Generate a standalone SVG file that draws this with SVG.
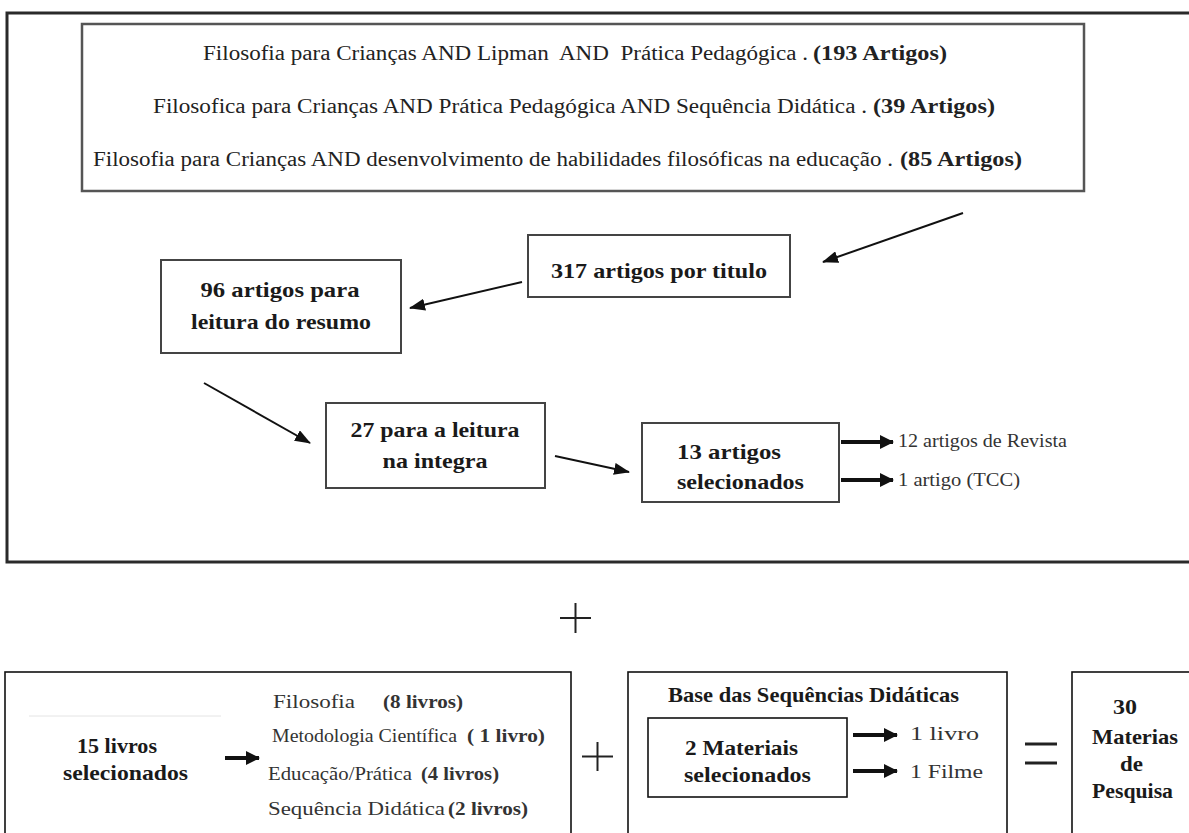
<svg xmlns="http://www.w3.org/2000/svg" width="1189" height="833" viewBox="0 0 1189 833">
<style>
.t{font-family:"Liberation Serif","Times New Roman",serif;fill:#222;white-space:pre}
.r{font-size:20px}
.b{font-weight:bold}
.m{font-size:22px;font-weight:bold;fill:#1a1a1a}
.s{font-size:19px;fill:#333}
.box{fill:none;stroke:#444;stroke-width:2}
.bbox{fill:none;stroke:#111;stroke-width:1.6}
.arr{stroke:#111;stroke-width:2;fill:none;marker-end:url(#ah)}
.tarr{stroke:#111;stroke-width:4;fill:none;marker-end:url(#th)}
.sym{stroke:#222;stroke-width:2;fill:none}
</style>
<defs>
<marker id="ah" markerUnits="userSpaceOnUse" markerWidth="16" markerHeight="12" refX="15" refY="6" orient="auto">
<path d="M0,0 L16,6 L0,12 z" fill="#111"/>
</marker>
<marker id="th" markerUnits="userSpaceOnUse" markerWidth="14" markerHeight="14" refX="13" refY="7" orient="auto">
<path d="M0,0 L14,7 L0,14 z" fill="#111"/>
</marker>
</defs>
<rect width="1189" height="833" fill="#fff"/>

<rect x="7" y="13" width="1200" height="549" fill="none" stroke="#2a2a2a" stroke-width="3"/>

<g id="search-box">
<rect x="82" y="24" width="1002" height="167" fill="none" stroke="#555" stroke-width="2.5"/>
<text class="t r" x="203" y="60" textLength="605" lengthAdjust="spacingAndGlyphs">Filosofia para Crianças AND Lipman  AND  Prática Pedagógica .</text>
<text class="t r b" x="813" y="60" textLength="134" lengthAdjust="spacingAndGlyphs">(193 Artigos)</text>
<text class="t r" x="153" y="113" textLength="714" lengthAdjust="spacingAndGlyphs">Filosofica para Crianças AND Prática Pedagógica AND Sequência Didática .</text>
<text class="t r b" x="873" y="113" textLength="122" lengthAdjust="spacingAndGlyphs">(39 Artigos)</text>
<text class="t r" x="93" y="166" textLength="800" lengthAdjust="spacingAndGlyphs">Filosofia para Crianças AND desenvolvimento de habilidades filosóficas na educação .</text>
<text class="t r b" x="900" y="166" textLength="122" lengthAdjust="spacingAndGlyphs">(85 Artigos)</text>
</g>

<g id="n317">
<rect class="box" x="528" y="235" width="262" height="62"/>
<text class="t m" x="659" y="278" text-anchor="middle" textLength="216" lengthAdjust="spacingAndGlyphs">317 artigos por titulo</text>
</g>
<g id="n96">
<rect class="box" x="161" y="260" width="240" height="93"/>
<text class="t m" x="280" y="297" text-anchor="middle" textLength="159" lengthAdjust="spacingAndGlyphs">96 artigos para</text>
<text class="t m" x="281" y="329" text-anchor="middle" textLength="180" lengthAdjust="spacingAndGlyphs">leitura do resumo</text>
</g>
<g id="n27">
<rect class="box" x="326" y="403" width="219" height="85"/>
<text class="t m" x="435" y="437" text-anchor="middle" textLength="169" lengthAdjust="spacingAndGlyphs">27 para a leitura</text>
<text class="t m" x="435" y="468" text-anchor="middle" textLength="105" lengthAdjust="spacingAndGlyphs">na integra</text>
</g>
<g id="n13">
<rect class="box" x="642" y="423" width="197" height="79"/>
<text class="t m" x="677" y="459" textLength="104" lengthAdjust="spacingAndGlyphs">13 artigos</text>
<text class="t m" x="677" y="489" textLength="127" lengthAdjust="spacingAndGlyphs">selecionados</text>
</g>
<g id="out13">
<text class="t s" x="898" y="447" textLength="169" lengthAdjust="spacingAndGlyphs">12 artigos de Revista</text>
<text class="t s" x="898" y="486" textLength="122" lengthAdjust="spacingAndGlyphs">1 artigo (TCC)</text>
</g>

<g id="connectors">
<line class="arr" x1="963" y1="213" x2="823" y2="262"/>
<line class="arr" x1="522" y1="282" x2="410" y2="308"/>
<line class="arr" x1="204" y1="383" x2="310" y2="443"/>
<line class="arr" x1="555" y1="456" x2="629" y2="472"/>
<line class="tarr" x1="841" y1="442" x2="893" y2="442"/>
<line class="tarr" x1="841" y1="480" x2="893" y2="480"/>
<line class="tarr" x1="225" y1="758" x2="259" y2="758"/>
<line class="tarr" x1="853" y1="735" x2="897" y2="735"/>
<line class="tarr" x1="853" y1="771" x2="897" y2="771"/>
</g>

<g id="plus-top">
<line class="sym" x1="575.5" y1="603" x2="575.5" y2="633"/>
<line class="sym" x1="560" y1="618" x2="591" y2="618"/>
</g>

<g id="books">
<rect class="bbox" x="5" y="672" width="566" height="200"/>
<line x1="29" y1="716" x2="221" y2="716" stroke="#e4e4e4" stroke-width="1"/>
<text class="t m" x="77" y="753" font-size="20" textLength="80" lengthAdjust="spacingAndGlyphs">15 livros</text>
<text class="t m" x="63" y="780" font-size="20" textLength="125" lengthAdjust="spacingAndGlyphs">selecionados</text>
<text class="t s" x="273" y="708" font-size="20" textLength="82" lengthAdjust="spacingAndGlyphs">Filosofia</text>
<text class="t s b" x="383" y="708" font-size="18" textLength="80" lengthAdjust="spacingAndGlyphs">(8 livros)</text>
<text class="t s" x="272" y="742" textLength="185" lengthAdjust="spacingAndGlyphs">Metodologia Científica</text>
<text class="t s b" x="467" y="742" textLength="78" lengthAdjust="spacingAndGlyphs">( 1 livro)</text>
<text class="t s" x="268" y="780" textLength="144" lengthAdjust="spacingAndGlyphs">Educação/Prática</text>
<text class="t s b" x="421" y="780" textLength="78" lengthAdjust="spacingAndGlyphs">(4 livros)</text>
<text class="t s" x="268" y="815" font-size="20" textLength="177" lengthAdjust="spacingAndGlyphs">Sequência Didática</text>
<text class="t s b" x="448" y="815" textLength="80" lengthAdjust="spacingAndGlyphs">(2 livros)</text>
</g>

<g id="plus-bottom">
<line class="sym" x1="597.5" y1="742" x2="597.5" y2="771"/>
<line class="sym" x1="582" y1="756.5" x2="613" y2="756.5"/>
</g>

<g id="base">
<rect class="bbox" x="628" y="672" width="379" height="200"/>
<text class="t m" x="668" y="702" font-size="20" textLength="291" lengthAdjust="spacingAndGlyphs">Base das Sequências Didáticas</text>
</g>
<g id="materiais">
<rect class="bbox" x="648" y="718" width="199" height="79"/>
<text class="t m" x="685" y="755" font-size="20" textLength="113" lengthAdjust="spacingAndGlyphs">2 Materiais</text>
<text class="t m" x="684" y="782" font-size="20" textLength="127" lengthAdjust="spacingAndGlyphs">selecionados</text>
<text class="t s" x="910" y="740" font-size="20" textLength="69" lengthAdjust="spacingAndGlyphs">1 livro</text>
<text class="t s" x="910" y="778" font-size="20" textLength="73" lengthAdjust="spacingAndGlyphs">1 Filme</text>
</g>

<g id="equals">
<line x1="1025" y1="744" x2="1057" y2="744" stroke="#222" stroke-width="3"/>
<line x1="1025" y1="763" x2="1057" y2="763" stroke="#222" stroke-width="3"/>
</g>

<g id="total">
<rect class="bbox" x="1072" y="672" width="200" height="200"/>
<text class="t m" x="1113" y="714" font-size="20" textLength="24" lengthAdjust="spacingAndGlyphs">30</text>
<text class="t m" x="1092" y="744" font-size="20" textLength="86" lengthAdjust="spacingAndGlyphs">Materias</text>
<text class="t m" x="1120" y="771" font-size="20" textLength="23" lengthAdjust="spacingAndGlyphs">de</text>
<text class="t m" x="1092" y="798" font-size="20" textLength="81" lengthAdjust="spacingAndGlyphs">Pesquisa</text>
</g>
</svg>
